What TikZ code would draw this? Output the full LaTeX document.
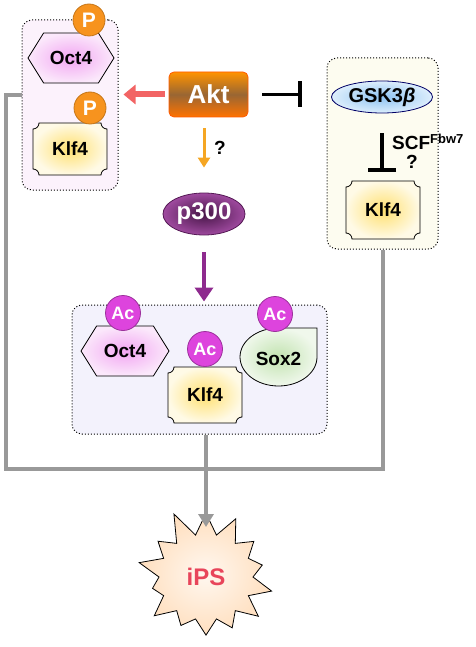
\documentclass[tikz,border=0pt]{standalone}
\usepackage{fontspec}
\setmainfont{Liberation Sans}
\usetikzlibrary{arrows.meta,shapes.geometric,shapes.symbols,calc,positioning}
\definecolor{pinkbg}{HTML}{FCF2FC}
\definecolor{creambg}{HTML}{FDFCF0}
\definecolor{lilacbg}{HTML}{F3F2FC}
\definecolor{octin}{HTML}{F2A6F2}
\definecolor{octout}{HTML}{FBE8FB}
\definecolor{klfin}{HTML}{FFE070}
\definecolor{klfout}{HTML}{FFFAE6}
\definecolor{soxin}{HTML}{C2E3B0}
\definecolor{soxout}{HTML}{F0F8EC}
\definecolor{pdot}{HTML}{F7931E}
\definecolor{acdot}{HTML}{DD44DD}
\definecolor{gskin}{HTML}{8EC3F2}
\definecolor{gskout}{HTML}{DDEEFC}
\definecolor{linkgray}{HTML}{999999}
\definecolor{redarrow}{HTML}{F26464}
\definecolor{orangearrow}{HTML}{F5A623}
\definecolor{purplearrow}{HTML}{8E2A8E}
\definecolor{ipsred}{HTML}{E8455A}
\tikzset{
  txt/.style={font=\fontsize{19}{19}\selectfont\bfseries},
  group/.style={draw, dotted, line width=1pt, rounded corners=10pt, inner sep=0pt},
  hexa/.style={signal, signal to=west and east, signal pointer angle=116, draw, line width=0.8pt,
    inner color=octin, outer color=octout, minimum width=86pt, minimum height=50pt, txt},
  klfshade/.style={draw, line width=0.8pt, inner color=klfin, outer color=klfout},
  pmark/.style={circle, draw=pdot!80!black, fill=pdot, line width=0.8pt, minimum size=32pt, inner sep=0pt,
    text=white, font=\fontsize{21}{21}\selectfont\bfseries},
  acmark/.style={circle, draw=acdot!70!black, fill=acdot, line width=0.8pt, minimum size=35pt, inner sep=0pt,
    text=white, font=\fontsize{18}{18}\selectfont\bfseries},
  link/.style={draw=linkgray, line width=4pt},
}
\begin{document}
\begin{tikzpicture}[x=1pt,y=-1pt]
\def\rn{6}
\def\klfbox(#1)#2#3{%
  \shadedraw[klfshade] ($(#1)+(-#2+\rn,-#3)$) -- ($(#1)+(#2-\rn,-#3)$) arc[start angle=180,end angle=90,radius=\rn]
    -- ($(#1)+(#2,#3-\rn)$) arc[start angle=270,end angle=180,radius=\rn]
    -- ($(#1)+(-#2+\rn,#3)$) arc[start angle=0,end angle=-90,radius=\rn]
    -- ($(#1)+(-#2,-#3+\rn)$) arc[start angle=90,end angle=0,radius=\rn] -- cycle;}
\useasboundingbox (0,0) rectangle (475,647);
\node[group, fill=pinkbg, minimum width=96pt, minimum height=170pt] (lbox) at (70,105) {};
\node[group, fill=creambg, minimum width=111pt, minimum height=191pt] (rbox) at (382.5,153.5) {};
\node[group, fill=lilacbg, minimum width=255pt, minimum height=129pt] (abox) at (199.5,369.5) {};
\coordinate (corner) at (6,469);
\draw[link] (lbox.west |- 0,95) -| (corner) -| (rbox.south);
\node[hexa] (octa) at (71,58) {Oct4};
\node[hexa, minimum width=88pt] (octb) at (125,351) {Oct4};
\foreach \n/\p/\h in {a/{70,149}/26, b/{383,210}/29, c/{205,395}/28} {
  \klfbox(\p){37}{\h}
  \node[txt, minimum width=74pt, minimum height=2*\h pt, inner sep=0pt] (klf\n) at (\p) {Klf4};
}
\shadedraw[line width=0.8pt, inner color=soxin, outer color=soxout] (278.5,328) -- (317,328) -- (317,357)
  arc[start angle=0,end angle=270,x radius=38.5,y radius=29] -- cycle;
\node[txt] (sox) at (278.5,359) {Sox2};
\node[pmark] (pa) at (89,20) {P};
\node[pmark] (pb) at (90,108) {P};
\foreach \n/\p in {a/{123,313}, b/{205,349}, c/{275,314}}
  \node[acmark] (ac\n) at (\p) {Ac};
\node[rounded corners=5pt, draw=orange!70!red, line width=0.8pt, top color=orange!85!yellow, bottom color=orange!90!red,
  middle color=brown!80!black, minimum width=79pt, minimum height=45pt, text=white,
  font=\fontsize{26}{26}\selectfont\bfseries] (akt) at (208.5,94.5) {Akt};
\node[ellipse, draw=blue!40!black, line width=0.8pt, inner color=gskin, outer color=gskout,
  minimum width=101pt, minimum height=32pt, inner sep=0pt, font=\fontsize{20}{20}\selectfont\bfseries] (gsk) at (382,97) {GSK3{\itshape β}};
\node[ellipse, draw=purplearrow!60!black, line width=0.8pt, inner color=purplearrow!50!black, outer color=purplearrow!85!white,
  minimum width=82pt, minimum height=42pt, inner sep=0pt, text=white,
  font=\fontsize{24}{24}\selectfont\bfseries] (p300) at (204,214) {p300};
\pgfmathsetseed{7}
\node[starburst, starburst points=14, starburst point height=28pt, random starburst=11, draw, line width=0.8pt,
  inner color=white!70!orange!20, outer color=orange!25!white, minimum width=150pt, minimum height=142pt,
  text=ipsred, font=\fontsize{24}{24}\selectfont\bfseries] (ips) at (206,577) {iPS};
\draw[link, -{Triangle[width=15pt,length=13pt]}, shorten >=50pt] (abox.south -| ips) -- (ips.center);
\draw[redarrow, line width=6pt, -{Triangle[width=19pt,length=12pt]}, shorten <=4pt, shorten >=5pt] (akt) -- (lbox.east |- akt);
\draw[orangearrow, line width=3pt, -{Triangle[width=12pt,length=10pt]}, shorten <=11pt, shorten >=25pt] (akt.south -| p300) -- (p300.north);
\draw[line width=3.5pt, -{Bar[width=26pt]}, shorten <=14pt, shorten >=25pt] (akt.east) -- (rbox.west |- akt);
\draw[line width=3.5pt, -{Bar[width=28pt]}, shorten <=20pt, shorten >=9pt] (gsk.south) -- (klfb.north -| gsk);
\draw[purplearrow, line width=4pt, -{Triangle[width=18pt,length=14pt]}, shorten <=17pt, shorten >=3pt] (p300.south) -- (abox.north -| p300);
\node[txt, right=10pt of akt.south -| p300, yshift=-30pt, anchor=west, inner sep=0pt] (qa) {?};
\node[txt, anchor=west, inner sep=0pt] (scf) at (392,142) {SCF\textsuperscript{\fontsize{13}{13}\selectfont Fbw7}};
\node[txt, inner sep=0pt] (qb) at (412,162) {?};
\end{tikzpicture}
\end{document}
